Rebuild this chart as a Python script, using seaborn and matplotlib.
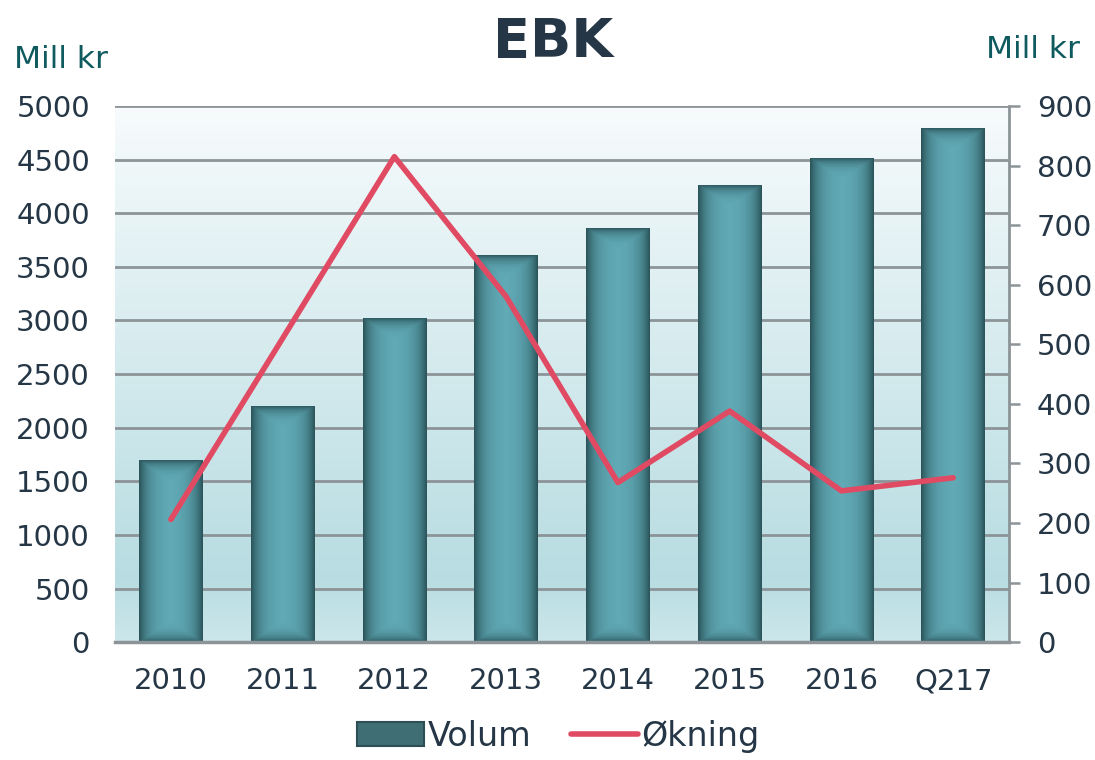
import matplotlib
matplotlib.use("Agg")
import matplotlib.pyplot as plt
import numpy as np
import pandas as pd
import seaborn as sns
from matplotlib.lines import Line2D
from matplotlib.patches import Patch


years = ["2010", "2011", "2012", "2013", "2014", "2015", "2016", "Q217"]
volum = [1690, 2200, 3020, 3600, 3860, 4260, 4510, 4790]
okning = [206, 510, 815, 580, 268, 388, 254, 276]

TEXT = "#253746"
LABEL = "#0e5a5e"
GRID = "#8c9498"
BAR_MID = np.array([0x63, 0xae, 0xba]) / 255
BAR_DARK = np.array([0x2b, 0x55, 0x5b]) / 255
LINE = "#e04a63"

sns.set_theme(style="white")
plt.rcParams["font.family"] = ["DejaVu Sans"]

df = pd.DataFrame({"year": years, "volum": volum, "okning": okning})

fig = plt.figure(figsize=(10.95, 7.6), dpi=100)
ax = fig.add_axes([0.105, 0.155, 0.8165, 0.7055])

# background gradient of the plot area
t = np.linspace(0, 1, 256)[:, None]
top = np.array([0.97, 0.985, 0.99])
low = np.array([0.72, 0.865, 0.885])
bot = np.array([0.80, 0.905, 0.92])
grad = np.where(t < 0.88, top + (low - top) * (t / 0.88), low + (bot - low) * ((t - 0.88) / 0.12))
img = np.repeat(grad[:, None, :], 2, axis=1).reshape(256, 2, 3)
ax.imshow(img, extent=(0, 1, 0, 1), transform=ax.transAxes, aspect="auto", zorder=0)

sns.barplot(data=df, x="year", y="volum", color=BAR_MID, width=0.57,
            saturation=1, edgecolor="none", ax=ax, zorder=1)
ax.set_ylim(0, 5000)
ax.set_xlim(-0.5, len(years) - 0.5)
ax.set_yticks(np.arange(0, 5001, 500))

# shaded bars: dark rim fading into the lighter centre
fig.canvas.draw()
for patch in ax.patches:
    x0, y0 = patch.get_x(), patch.get_y()
    w, h = patch.get_width(), patch.get_height()
    p0 = ax.transData.transform((x0, y0))
    p1 = ax.transData.transform((x0 + w, y0 + h))
    nx, ny = max(int(p1[0] - p0[0]), 2), max(int(p1[1] - p0[1]), 2)
    ix = np.arange(nx)
    iy = np.arange(ny)
    dx = np.minimum(ix, nx - 1 - ix)[None, :]
    dy = np.minimum(iy, ny - 1 - iy)[:, None]
    f = np.maximum(np.exp(-dx / 10.0), 0.9 * np.exp(-dy / 7.0))
    shade = BAR_MID[None, None, :] * (1 - f[..., None]) + BAR_DARK[None, None, :] * f[..., None]
    ax.imshow(shade, extent=(x0, x0 + w, y0, y0 + h), origin="lower",
              aspect="auto", zorder=1.5, interpolation="bilinear")
ax.set_ylim(0, 5000)
ax.set_xlim(-0.5, len(years) - 0.5)

ax.set_axisbelow(True)
ax.yaxis.grid(True, color=GRID, linewidth=2)
ax.xaxis.grid(False)
for side in ["left", "top", "right"]:
    ax.spines[side].set_visible(False)
ax.spines["bottom"].set_color(GRID)
ax.spines["bottom"].set_linewidth(2.5)
ax.set_xlabel("")
ax.set_ylabel("")
ax.tick_params(axis="y", length=0, pad=18, labelsize=21, labelcolor=TEXT)
ax.tick_params(axis="x", length=0, pad=18, labelsize=21, labelcolor=TEXT)

ax2 = ax.twinx()
sns.pointplot(data=df, x="year", y="okning", color=LINE, markers="",
              linewidth=4, ax=ax2, errorbar=None)
for ln in ax2.lines:
    ln.set_solid_capstyle("round")
    ln.set_solid_joinstyle("round")
ax2.set_ylim(0, 900)
ax2.set_xlim(-0.5, len(years) - 0.5)
ax2.set_yticks(np.arange(0, 901, 100))
ax2.set_ylabel("")
ax2.set_xlabel("")
for side in ["left", "top", "bottom"]:
    ax2.spines[side].set_visible(False)
ax2.spines["right"].set_color(GRID)
ax2.spines["right"].set_linewidth(2)
ax2.tick_params(axis="y", length=8, width=1.8, color=GRID, pad=12,
                labelsize=21, labelcolor=TEXT)
ax2.grid(False)

fig.text(0.505, 0.945, "EBK", ha="center", va="center", fontsize=39,
         fontweight="bold", color=TEXT)
fig.text(0.013, 0.922, "Mill kr", ha="left", va="center", fontsize=22.5, color=LABEL)
fig.text(0.986, 0.935, "Mill kr", ha="right", va="center", fontsize=22.5, color=LABEL)

handles = [
    Patch(facecolor="#3f6e74", edgecolor="#2b4f54", linewidth=1.5),
    Line2D([0], [0], color=LINE, linewidth=4, solid_capstyle="round"),
]
fig.legend(handles, ["Volum", "Økning"], loc="lower center",
           bbox_to_anchor=(0.51, -0.03), ncol=2, frameon=False, fontsize=24,
           labelcolor=TEXT, handlelength=2.0, handletextpad=0.1,
           columnspacing=1.2, handleheight=0.75)

fig.savefig("out.png", dpi=100)
